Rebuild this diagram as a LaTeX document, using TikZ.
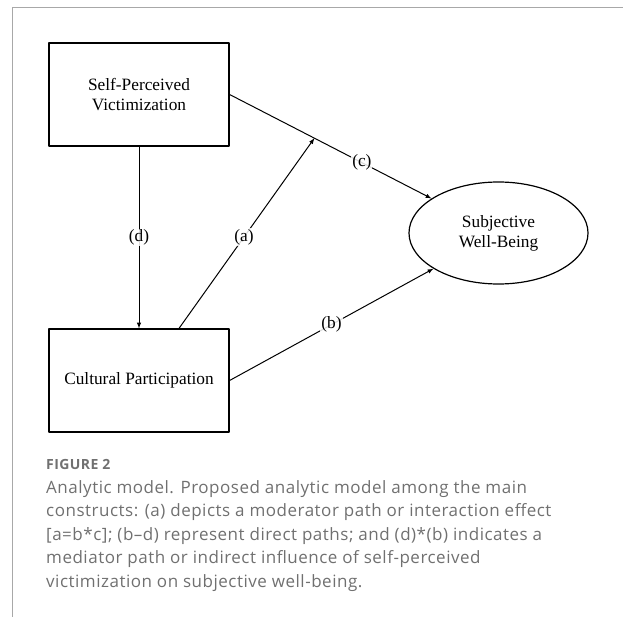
\documentclass[tikz,border=0pt]{standalone}
\usepackage{fontspec}
\setmainfont{Liberation Serif}
\newfontfamily\captionfont[LetterSpace=3]{Open Sans}
\usepackage{tikz}
\usetikzlibrary{shapes.geometric, arrows.meta}
\definecolor{framegray}{HTML}{A8A8A8}
\definecolor{captiongray}{HTML}{707070}
\tikzset{>=latex}

\begin{document}
\begin{tikzpicture}[x=1pt, y=-1pt,
                line cap=round, line join=round,
                construct/.style={draw, line width=1.2pt, rectangle, minimum width=180pt,
                                  minimum height=103pt, align=center, font=\diagramfont},
                outcome/.style={draw, line width=1.2pt, ellipse, minimum width=179pt,
                                minimum height=102pt, inner sep=0pt, align=center, font=\diagramfont},
                effect/.style={->, line width=1pt},
                pathlabel/.style={fill=white, fill opacity=0.85, text opacity=1,
                                  inner sep=1pt, font=\diagramfont}]
                \def\diagramfont{\fontsize{17.3}{20}\selectfont}
                \def\captionsize{\captionfont\fontsize{17}{23.5}\selectfont}
                \useasboundingbox (0,0) rectangle (623,617);

                % page frame
                \draw[framegray, line width=1pt] (12.7,617) -- (12.7,7.3) -- (623,7.3);

                % constructs
                \node[construct] (vict) at (139,94.5) {Self-Perceived\\Victimization};
                \node[construct] (cult) at (139,380.5) {Cultural Participation};
                \node[outcome]   (swb)  at (498.5,233) {Subjective\\Well-Being};

                % paths
                \draw[effect] (vict.east) -- coordinate[pos=0.42] (moderation)
                    node[pos=0.655, pathlabel] {(c)} (swb);
                \draw[effect] (vict.south) -- node[pathlabel] {(d)} (cult.north);
                \draw[effect] ([xshift=40pt]cult.north) -- node[pos=0.48, pathlabel] {(a)} (moderation);
                \draw[effect] (cult.east) -- node[pathlabel] {(b)} (swb);

                % caption (base anchor sits on the last line)
                \node[anchor=base west, inner sep=0pt, captiongray,
                      font=\captionfont\bfseries\fontsize{14}{17}\selectfont] (figno) at (46,469) {FIGURE 2};
                \node[anchor=base west, inner sep=0pt, captiongray, align=left,
                      font=\captionsize] (caption) at (46,587)
                    {Analytic model. Proposed analytic model among the main\\
                     constructs: (a) depicts a moderator path or interaction effect\\
                     {[}a=b*c]; (b–d) represent direct paths; and (d)*(b) indicates a\\
                     mediator path or indirect influence of self-perceived\\
                     victimization on subjective well-being.};
\end{tikzpicture}
\end{document}
